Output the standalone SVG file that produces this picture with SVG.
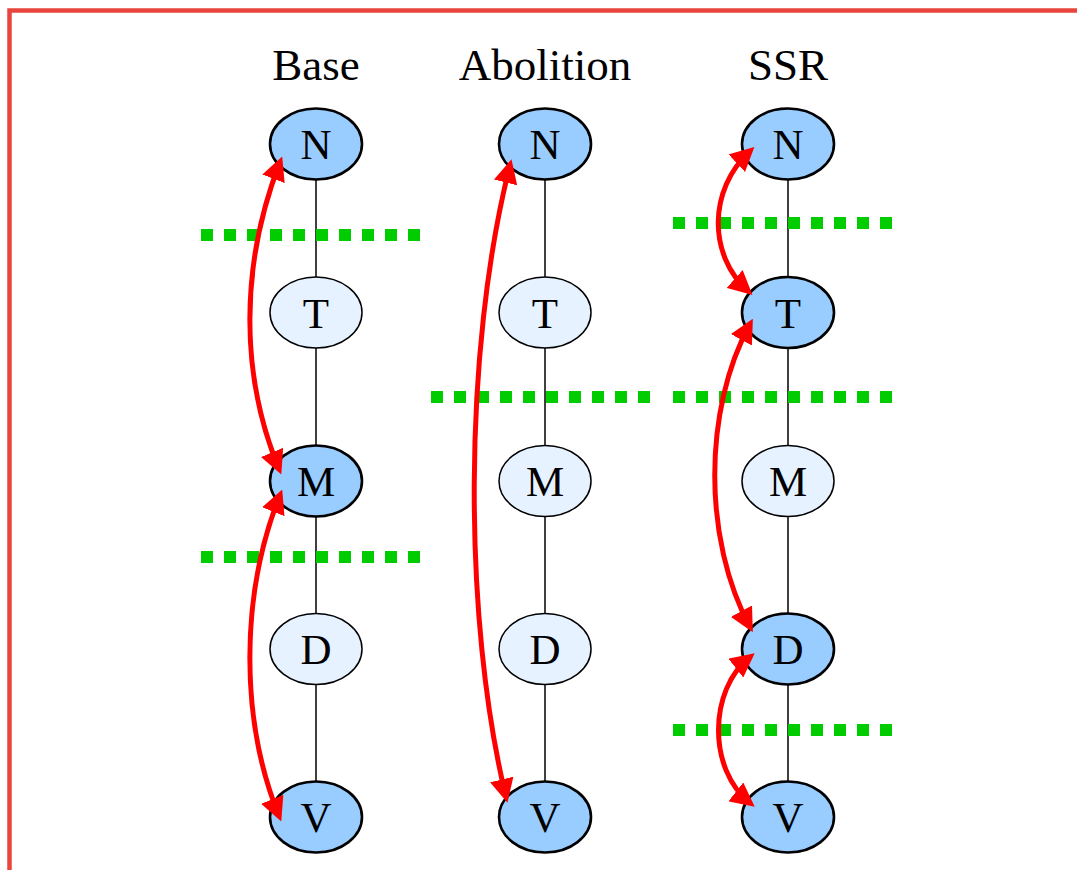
<svg xmlns="http://www.w3.org/2000/svg" width="1077" height="870" viewBox="0 0 1077 870">
<style>
.title{font-family:"Liberation Serif","Times New Roman",serif;font-size:45px;fill:#000;text-anchor:middle}
.lbl{font-family:"Liberation Serif","Times New Roman",serif;font-size:43px;fill:#000;text-anchor:middle}
.dark{fill:#99ccff;stroke:#000;stroke-width:2.6}
.light{fill:#e6f2ff;stroke:#000;stroke-width:1.5}
.edge{stroke:#000;stroke-width:1.5;fill:none}
.cut{stroke:#00cc00;stroke-width:12;stroke-dasharray:12 11;fill:none}
.arc{stroke:#ff0000;stroke-width:5;fill:none;marker-start:url(#ah);marker-end:url(#ah)}
</style>
<defs>
<marker id="ah" viewBox="0 0 24 24" markerWidth="24" markerHeight="24" refX="18" refY="12" orient="auto-start-reverse" markerUnits="userSpaceOnUse">
<path d="M0,0 L24,12 L0,24 z" fill="#ff0000"/>
</marker>
</defs>
<rect x="0" y="0" width="1077" height="870" fill="#fff"/>
<rect id="frame" x="9.5" y="10.5" width="1100" height="900" fill="none" stroke="#e8453c" stroke-width="4.5"/>
<g id="titles">
<text class="title" x="316" y="80">Base</text>
<text class="title" x="545" y="80">Abolition</text>
<text class="title" x="788" y="80">SSR</text>
</g>
<g id="connectors">
<line class="edge" x1="316" y1="180" x2="316" y2="277"/>
<line class="edge" x1="316" y1="348" x2="316" y2="445"/>
<line class="edge" x1="316" y1="517" x2="316" y2="614"/>
<line class="edge" x1="316" y1="685" x2="316" y2="781"/>
<line class="edge" x1="545" y1="180" x2="545" y2="277"/>
<line class="edge" x1="545" y1="348" x2="545" y2="445"/>
<line class="edge" x1="545" y1="517" x2="545" y2="614"/>
<line class="edge" x1="545" y1="685" x2="545" y2="781"/>
<line class="edge" x1="788" y1="180" x2="788" y2="277"/>
<line class="edge" x1="788" y1="348" x2="788" y2="445"/>
<line class="edge" x1="788" y1="517" x2="788" y2="614"/>
<line class="edge" x1="788" y1="685" x2="788" y2="781"/>
</g>
<g id="cuts">
<line class="cut" x1="201" y1="235" x2="420" y2="235"/>
<line class="cut" x1="201" y1="557" x2="420" y2="557"/>
<line class="cut" x1="431" y1="397" x2="650" y2="397"/>
<line class="cut" x1="673" y1="223" x2="892" y2="223"/>
<line class="cut" x1="673" y1="397" x2="892" y2="397"/>
<line class="cut" x1="673" y1="730" x2="892" y2="730"/>
</g>
<g id="base-N"><ellipse class="dark" cx="316" cy="144" rx="46" ry="35.5"/><text class="lbl" x="316" y="159">N</text></g>
<g id="base-T"><ellipse class="light" cx="316" cy="312.5" rx="46" ry="35.5"/><text class="lbl" x="316" y="327.5">T</text></g>
<g id="base-M"><ellipse class="dark" cx="316" cy="481" rx="46" ry="35.5"/><text class="lbl" x="316" y="496">M</text></g>
<g id="base-D"><ellipse class="light" cx="316" cy="649" rx="46" ry="35.5"/><text class="lbl" x="316" y="664">D</text></g>
<g id="base-V"><ellipse class="dark" cx="316" cy="817" rx="46" ry="35.5"/><text class="lbl" x="316" y="832">V</text></g>
<g id="abo-N"><ellipse class="dark" cx="545" cy="144" rx="46" ry="35.5"/><text class="lbl" x="545" y="159">N</text></g>
<g id="abo-T"><ellipse class="light" cx="545" cy="312.5" rx="46" ry="35.5"/><text class="lbl" x="545" y="327.5">T</text></g>
<g id="abo-M"><ellipse class="light" cx="545" cy="481" rx="46" ry="35.5"/><text class="lbl" x="545" y="496">M</text></g>
<g id="abo-D"><ellipse class="light" cx="545" cy="649" rx="46" ry="35.5"/><text class="lbl" x="545" y="664">D</text></g>
<g id="abo-V"><ellipse class="dark" cx="545" cy="817" rx="46" ry="35.5"/><text class="lbl" x="545" y="832">V</text></g>
<g id="ssr-N"><ellipse class="dark" cx="788" cy="144" rx="46" ry="35.5"/><text class="lbl" x="788" y="159">N</text></g>
<g id="ssr-T"><ellipse class="dark" cx="788" cy="312.5" rx="46" ry="35.5"/><text class="lbl" x="788" y="327.5">T</text></g>
<g id="ssr-M"><ellipse class="light" cx="788" cy="481" rx="46" ry="35.5"/><text class="lbl" x="788" y="496">M</text></g>
<g id="ssr-D"><ellipse class="dark" cx="788" cy="649" rx="46" ry="35.5"/><text class="lbl" x="788" y="664">D</text></g>
<g id="ssr-V"><ellipse class="dark" cx="788" cy="817" rx="46" ry="35.5"/><text class="lbl" x="788" y="832">V</text></g>
<g id="arcs">
<path class="arc" d="M280,162 C240,265 240,375 279,469"/>
<path class="arc" d="M280,495 C240,595 240,720 279,816"/>
<path class="arc" d="M510,165 C463,350 463,620 506,797"/>
<path class="arc" d="M750,151 C708,190 708,255 748,291"/>
<path class="arc" d="M750,324 C703,410 703,540 750,627"/>
<path class="arc" d="M750,657 C708,690 708,770 750,803"/>
</g>
</svg>
